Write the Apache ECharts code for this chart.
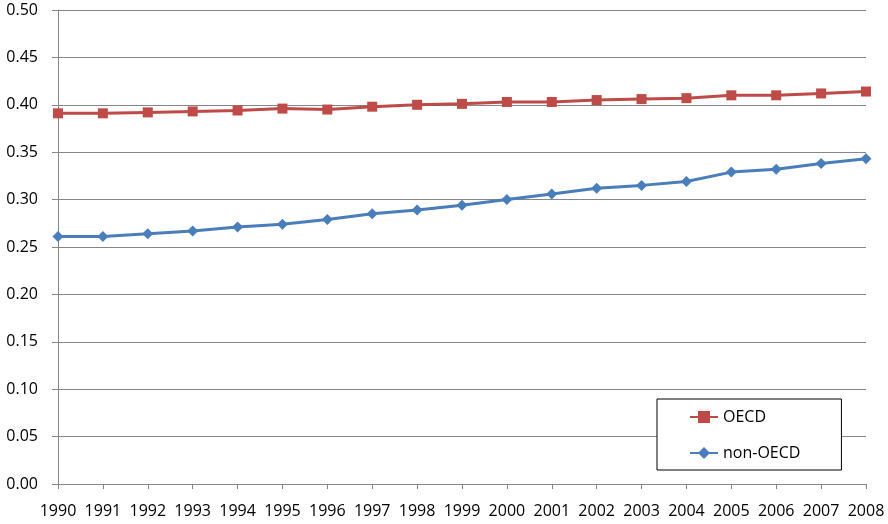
<!DOCTYPE html>
<html>
<head>
<meta charset="utf-8">
<script src="https://cdn.jsdelivr.net/npm/echarts@6/dist/echarts.min.js"></script>
<style>html,body{margin:0;padding:0;background:#fff}#c{width:888px;height:524px}</style>
</head>
<body>
<div id="c"></div>
<script>
const years = ['1990','1991','1992','1993','1994','1995','1996','1997','1998','1999','2000','2001','2002','2003','2004','2005','2006','2007','2008'];
const oecd = [0.391,0.391,0.392,0.393,0.394,0.396,0.395,0.398,0.400,0.401,0.403,0.403,0.405,0.406,0.407,0.410,0.410,0.412,0.414];
const nonOecd = [0.261,0.261,0.264,0.267,0.271,0.274,0.279,0.285,0.289,0.294,0.300,0.306,0.312,0.315,0.319,0.329,0.332,0.338,0.343];
const seriesNames = ['OECD','non-OECD'];

const font = '"Open Sans", "Noto Sans", sans-serif';
const chart = echarts.init(document.getElementById('c'), null, {renderer:'canvas'});
chart.setOption({
  animation: false,
  backgroundColor: '#fff',
  grid: {left: 58, right: 22, top: 10, bottom: 40, containLabel: false},
  legend: {
    orient: 'vertical',
    left: 657, top: 399,
    backgroundColor: '#fff',
    borderColor: '#000', borderWidth: 1,
    padding: [10, 41, 9, 32],
    itemGap: 20,
    itemWidth: 28, itemHeight: 15,
    textStyle: {fontFamily: font, fontSize: 16, color: '#000'},
    data: seriesNames
  },
  xAxis: {
    type: 'category',
    data: years,
    boundaryGap: false,
    axisLine: {show: true, lineStyle: {color: '#868686', width: 1}},
    axisTick: {show: true, length: 5, alignWithLabel: true, lineStyle: {color: '#868686'}},
    axisLabel: {fontFamily: font, fontSize: 16, color: '#000', margin: 19, interval: 0},
    splitLine: {show: false}
  },
  yAxis: {
    type: 'value',
    min: 0, max: 0.5, interval: 0.05,
    axisLine: {show: true, lineStyle: {color: '#868686', width: 1}},
    axisTick: {show: true, length: 6, lineStyle: {color: '#868686'}},
    axisLabel: {fontFamily: font, fontSize: 16, color: '#000', margin: 20,
      formatter: v => v.toFixed(2)},
    splitLine: {show: true, lineStyle: {color: '#868686', width: 1}}
  },
  series: [
    {
      name: seriesNames[0], type: 'line', data: oecd,
      symbol: 'rect', symbolSize: 10,
      lineStyle: {color: '#BE4B48', width: 3},
      itemStyle: {color: '#BE4B48'},
      z: 3
    },
    {
      name: seriesNames[1], type: 'line', data: nonOecd,
      symbol: 'diamond', symbolSize: 11,
      lineStyle: {color: '#4A7EBB', width: 3},
      itemStyle: {color: '#4A7EBB'},
      z: 3
    }
  ]
});
</script>
</body>
</html>
